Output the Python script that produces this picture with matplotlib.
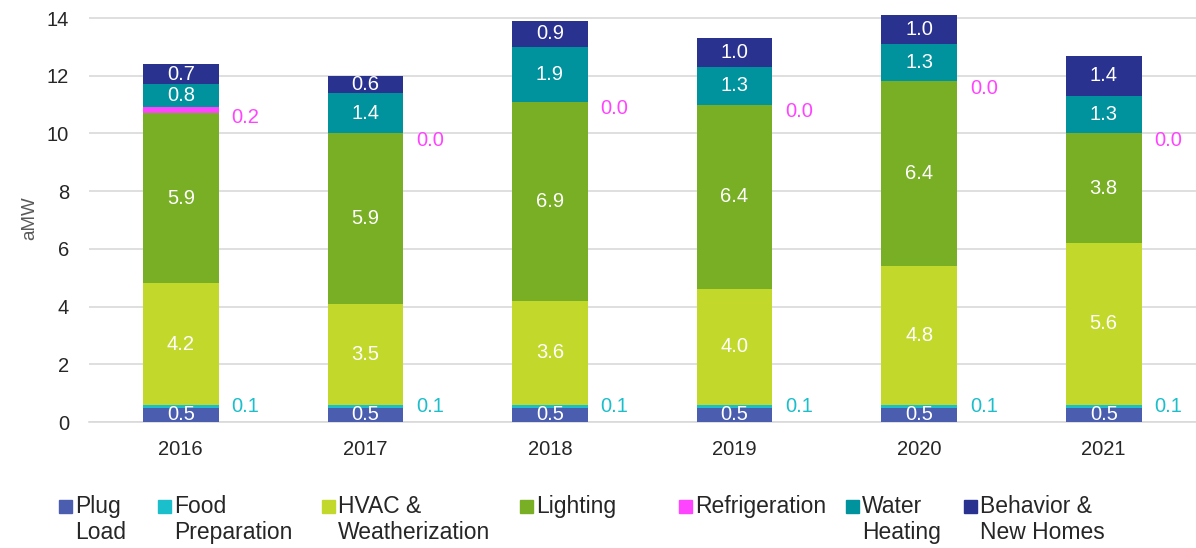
import numpy as np
import matplotlib.pyplot as plt
from matplotlib.patches import Rectangle

plt.rcParams['font.family'] = ['Liberation Sans', 'DejaVu Sans']

years = ["2016", "2017", "2018", "2019", "2020", "2021"]
plug_load = [0.5, 0.5, 0.5, 0.5, 0.5, 0.5]
food_prep = [0.1, 0.1, 0.1, 0.1, 0.1, 0.1]
hvac = [4.2, 3.5, 3.6, 4.0, 4.8, 5.6]
lighting = [5.9, 5.9, 6.9, 6.4, 6.4, 3.8]
refrigeration = [0.2, 0.0, 0.0, 0.0, 0.0, 0.0]
water_heating = [0.8, 1.4, 1.9, 1.3, 1.3, 1.3]
behavior = [0.7, 0.6, 0.9, 1.0, 1.0, 1.4]

series = [
    ("Plug\nLoad", plug_load, "#4A5DAF"),
    ("Food\nPreparation", food_prep, "#1BBFCB"),
    ("HVAC &\nWeatherization", hvac, "#C2D92C"),
    ("Lighting", lighting, "#78AF24"),
    ("Refrigeration", refrigeration, "#FF44FF"),
    ("Water\nHeating", water_heating, "#00929D"),
    ("Behavior &\nNew Homes", behavior, "#29328F"),
]

fig = plt.figure(figsize=(11.96, 5.48), dpi=100)
ax = fig.add_axes([0.074, 0.2299, 0.926, 0.7425])

x = np.arange(len(years))
width = 0.41
bottom = np.zeros(len(years))
for name, vals, color in series:
    vals = np.array(vals)
    ax.bar(x, vals, width, bottom=bottom, color=color, label=name, zorder=3)
    for i, v in enumerate(vals):
        mid = bottom[i] + v / 2
        if name.startswith("Food"):
            ax.text(x[i] + width / 2 + 0.07, mid, f"{v:.1f}", color=color,
                    fontsize=14.5, ha="left", va="center")
        elif name == "Refrigeration":
            ax.text(x[i] + width / 2 + 0.07, mid - 0.25, f"{v:.1f}", color=color,
                    fontsize=14.5, ha="left", va="center")
        else:
            ax.text(x[i], mid, f"{v:.1f}", color="white",
                    fontsize=14.5, ha="center", va="center", zorder=4)
    bottom += vals

ax.set_xlim(-0.5, len(years) - 0.5)
ax.set_ylim(0, 14.1)
ax.set_yticks(range(0, 15, 2))
ax.set_xticks(x)
ax.set_xticklabels(years)
ax.tick_params(axis="both", length=0, labelsize=14.5, colors="#262626")
ax.tick_params(axis="y", pad=14)
ax.tick_params(axis="x", pad=13)
ax.set_ylabel("aMW", fontsize=13.5, color="#595959", labelpad=6)
ax.grid(axis="y", color="#D9D9D9", linewidth=1.2, zorder=0)
for s in ["top", "right", "left"]:
    ax.spines[s].set_visible(False)
ax.spines["bottom"].set_color("#D9D9D9")
ax.spines["bottom"].set_linewidth(1.2)

# legend drawn by hand so wrapped labels stay top-aligned
legend_x = [59, 158, 322, 520, 679, 846, 964]
H = 548.0
W = 1196.0
for (name, vals, color), lx in zip(series, legend_x):
    fig.patches.append(Rectangle((lx / W, 1 - 513 / H), 13 / W, 13 / H,
                                 transform=fig.transFigure, color=color))
    fig.text((lx + 16) / W, 1 - 495 / H, name, fontsize=16.5, color="#262626",
             ha="left", va="top", linespacing=1.15)

fig.savefig("out.png", dpi=100)
